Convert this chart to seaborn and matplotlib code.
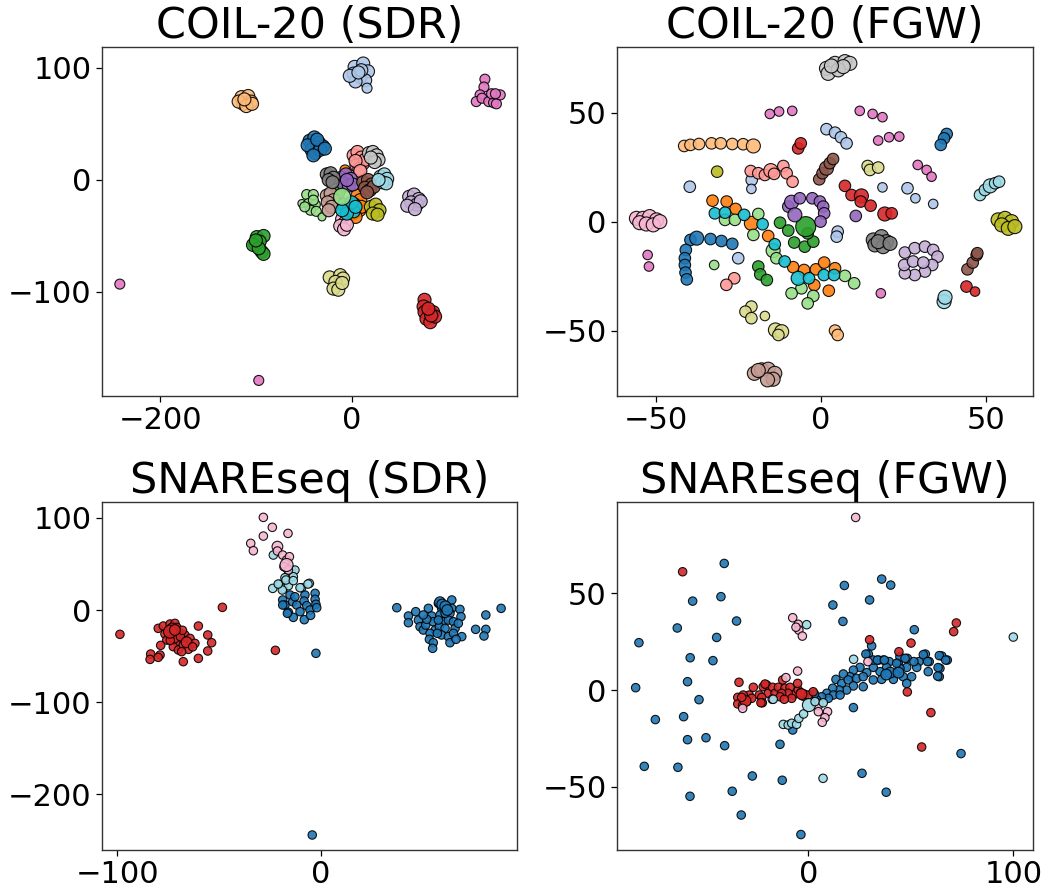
import matplotlib
matplotlib.use("Agg")
import matplotlib.pyplot as plt
import pandas as pd
import seaborn as sns

# ---------------- data: class -> [(x, y[, weight])] ----------------
COIL_SDR = {
    0: [(-44, 35), (-39, 38), (-34, 33), (-30, 30), (-37, 29), (-42, 27), (-38, 24), (-33, 27), (-46, 31), (-36, 36), (-28, 28), (-40, 22)],
    1: [(3, 101), (12, 104), (17, 97), (2, 95), (9, 92), (14, 89), (4, 88), (16, 82, 2), (10, 98), (-2, 93), (7, 96)],
    2: [(6, -14), (9, -18), (3, -22), (8, -27), (1, -30), (10, -24), (-7, 9, 2), (4, -33)],
    3: [(-115, 74), (-108, 75), (-105, 70), (-113, 68), (-118, 70), (-110, 66), (-104, 68), (-112, 72)],
    4: [(-99, -51), (-92, -50), (-101, -57), (-96, -55), (-103, -58), (-94, -64), (-92, -66), (-97, -61), (-100, -54), (-14, -11)],
    5: [(-47, -13, 2), (-40, -13, 2), (-52, -21, 1), (-45, -21, 2), (-38, -22, 2), (-43, -27, 2), (-37, -28, 2), (-31, -33, 1), (-49, -24, 2), (-40, -18, 2)],
    6: [(76, -107), (75, -113), (76, -118), (78, -124), (82, -127), (85, -118), (87, -122), (83, -121), (80, -115)],
    7: [(2, 22), (6, 25), (10, 20), (12, 15), (5, 13), (8, 10), (14, 18), (4, 17), (9, 8)],
    8: [(-11, 2), (-6, 5), (-1, 1), (-9, -3), (-3, -5), (1, -4), (-5, 0)],
    9: [(60, -15), (65, -13), (70, -17), (62, -20), (68, -22), (72, -19), (58, -23), (66, -26)],
    10: [(12, -2), (17, 0), (21, -4), (14, -7), (19, -9), (23, -6), (16, -11)],
    11: [(-26, -14), (-22, -12), (-19, -18), (-25, -20), (-21, -24), (-24, -27)],
    12: [(139, 90, 2), (138, 83, 2), (134, 76, 2), (130, 70, 2), (136, 73, 2), (143, 70, 2), (148, 69, 2), (151, 68, 2), (155, 76, 2), (146, 77, 2), (150, 77, 2), (-242, -93, 2), (-97, -179, 2)],
    13: [(-10, -35), (-7, -38), (-12, -41), (-8, -44), (-5, -40)],
    14: [(-26, 5), (-22, 6), (-19, 2), (-24, 0), (-20, -2)],
    15: [(18, 24), (22, 25), (26, 22), (28, 18), (24, 16), (20, 20)],
    16: [(20, -24), (25, -22), (29, -27), (22, -30), (27, -31)],
    17: [(-23, -87), (-12, -85), (-9, -88), (-17, -91), (-19, -97), (-14, -98), (-10, -92)],
    18: [(-8, -22), (-3, -25), (2, -28), (-5, -30), (0, -20), (-10, -27), (4, -24)],
    19: [(30, 3), (34, 5), (37, 1), (32, -2), (36, -3), (28, 0)],
    105: [(-10, -15, 4)],   # big light-green point (class 5) drawn on top
}

COIL_FGW = {
    0: [(38.2, 40.2), (37.4, 38.2), (36.4, 35.2), (-39.6, -8.4), (-37.7, -7.6, 3), (-33.5, -8), (-30.2, -8.9), (-26.9, -10.2), (-41, -13), (-41.3, -16.8), (-41.3, -19.9), (-41.1, -23.4), (-40.7, -26.5)],
    1: [(-21, 19.1), (-21.1, 15, 1), (-39.8, 16), (-25.1, -16.8), (1.7, 42.4), (4.3, 40.8), (6.1, 38.7), (7.8, 35.9), (18.7, 15.7, 1), (26.3, 15.3), (28.7, 10.7, 1), (34.1, 8.1, 1), (5.1, -4.6), (4.8, -6.9)],
    2: [(-32.9, 9.6), (-28.6, 9.2), (-25.9, 5.8), (-21.1, -0.8, 3), (-16, -6.6), (-8.4, -20.9), (-5.1, -22.2), (-1.5, -21.9), (1, -18.8), (4.3, -21.4), (-2, -29.1), (2.4, -31.7)],
    3: [(-41.5, 34.7), (-39.6, 35.2), (-37, 35.6), (-33.2, 35.9), (-30.4, 35.9), (-26.9, 35.6), (-23.6, 35.5), (-20.5, 34.7, 3), (4.3, -50), (5.1, -52)],
    4: [(-12.4, -0.5), (-9.9, -4.1), (-8.1, -9.6), (-4.9, -11.5), (-2.3, -9.2), (-4, -5.4), (-4.6, -2.3, 4), (-19, -20.6), (-18.4, -24.2), (-16.4, -26.8)],
    5: [(-29.1, 0.8), (-26.1, 0.8), (-19, 3.5), (-20.5, -6.1), (-14.5, -13.3, 3), (-13.5, -16.8), (-32.4, -19.9, 1), (-5.9, -30.6), (-8.9, -32.9), (-2.3, -34.1), (-4, -37.5), (7.3, -24.9), (10.1, -28.3)],
    6: [(-6.9, 33.6), (-6.1, 35.9), (7.3, 16.4), (9.3, 12.2), (12.3, 11.8, 3), (12.1, 9.2), (15.1, 7.3), (19.4, 3.5, 3), (21.5, 3.8), (44.2, -29.8), (46.8, -32.1, 1)],
    7: [(-21.3, 23.2), (-19, 22.2), (-17, 21.4), (-15.2, 23.4, 3), (-14.2, 21.9), (-11.4, 25.5), (-10.4, 22.2), (-8.6, 18.3), (-26.3, -26), (-28.7, -29)],
    8: [(-9.9, 6.9), (-8.9, 8.9, 3), (-6.4, 10.7), (-2.6, 10.7), (-0.3, 9.2), (0.7, 6.9), (1, 3.8), (-0.1, 0), (-7.9, 3.1, 3), (10.6, 2.6)],
    9: [(25.5, -14.2), (28.5, -12.2), (31.6, -11.5), (34.1, -13), (35.4, -16.1), (33.8, -19.9), (31.6, -22.9), (28.5, -24.5), (25.5, -23.7), (25.3, -19.9), (28, -18.3), (31.1, -18.8)],
    10: [(-0.5, 19.4), (0.5, 22.2), (1.7, 24.5, 3), (2.7, 26.8), (3.7, 28.7), (44.5, -21.9), (46.1, -18.8), (47.3, -15.3), (47.5, -14.5)],
    11: [(-20.2, -69.6, 3), (-18, -68, 3), (-16, -67.7, 3), (-14, -69.6, 3), (-14.5, -72.3, 3), (-16.2, -72.6, 3), (-19, -68.3, 3)],
    12: [(-15.5, 49.4, 1), (-12.7, 50.5, 1), (-8.7, 50.8, 1), (11.8, 50.8, 1), (15.7, 49.4, 1), (18.7, 47.9, 1), (17.4, 37.2, 1), (20.7, 38.7, 1), (23.8, 39, 1), (29.4, 26, 1), (32.1, 23.7, 1), (33.6, 20.6, 1), (-52.6, -15.3, 1), (-52.2, -20.6, 1), (18.2, -32.9, 1)],
    13: [(-56, 1.5, 3), (-54, 1.5, 3), (-52, 2.3, 3), (-49.9, 0.8, 3), (-55, -0.5, 3), (-53, -1.1, 3), (-50.9, -1.5, 3), (-48.9, 0, 3)],
    14: [(15.9, -8.4, 3), (18.4, -6.9, 3), (19.9, -9.2, 3), (16.4, -10.7, 3), (18.9, -11.5, 3), (17.4, -9.2, 3), (21, -10, 3)],
    15: [(1.7, 70.3, 3), (4.3, 72.6, 3), (7.3, 73.4, 3), (8.8, 72.6, 3), (2.2, 68, 3), (5.3, 69.6, 3), (6.8, 71.1, 3), (3.2, 71.4, 3)],
    16: [(-31.5, 22.9), (53.8, 0.8, 3), (55.9, 1.5, 3), (57.9, 0, 3), (54.9, -1.5, 3), (56.9, -3.1, 3), (58.9, -2.3, 3)],
    17: [(14.2, 25.5), (14.9, 23.7), (17.4, 24.8), (-21.1, -39), (-22.9, -41.3), (-21.1, -44.3), (-17, -43.3, 1), (-13.8, -49.7, 3), (-11.9, -50.5, 3), (-12.9, -52)],
    18: [(-32.2, 3.8), (-29.1, 4.1), (-23.3, 3.1), (-17.7, -1.2), (-14, -10.4), (-11, -18.3), (-6.9, -26, 3), (-3.6, -26), (0.9, -24.5), (4, -24.5)],
    19: [(48.3, 12.2), (49.8, 14.5), (51.4, 16.4, 3), (52.9, 17.6), (54.1, 18.3), (37.4, -36.7, 3), (37.7, -34.7, 3)],
}

SNARE_SDR = {
    0: [(37.2, 2.5), (42.9, -6.5), (42.9, -13.8), (46.5, -1.8), (47.8, -10.9), (48.6, -18.1), (50.2, -21.7), (51.4, -16.3),
        (52.7, 1.8), (54.3, -6.5), (55.1, -12.7), (56, -21.7), (53.5, -25.3), (53.2, -31.8), (55.1, -35.5), (54.8, -41.6),
        (57.6, 7.2), (59.2, 1.8), (58.4, -5.4), (60, -12.7), (58.1, -18.1), (60.9, -19.9), (59.2, -27.1), (57.1, -25.3),
        (62.5, -28.9), (64.2, 10.9), (64.2, 1.8), (63.3, -3.6), (62.5, -10.9), (65, -12.7), (65.8, -19.9), (65, -25.3),
        (63.3, -35.5), (68.2, 0.7), (68.7, -7.2), (67.4, -14.5), (69.1, -28.9), (66.3, -31.8), (60.9, -3.6), (57.6, -10.9),
        (51.9, -10.1), (50.2, -5.4), (58.4, 8.5, 3), (59.5, 6, 3), (61, 4, 3), (62, 0, 3),
        (75.9, -21), (80.9, -5.4), (80.9, -21), (80, -28.2), (88.4, 1.8),
        (-18.8, 10.9), (-17.7, 5.4), (-15.2, 16.3), (-13.9, 9), (-11.9, 5.4), (-12.8, 14.4), (-7.9, 16.3), (-8.3, 9.8),
        (-7, 4.7), (-2.9, 18.1), (-2.9, 11.6), (-2.5, 6.2), (-10.3, -1.8), (-16, -2.5), (-5.4, 0), (-13.6, -8),
        (-8.2, -10.5), (-5.1, -5.8), (-2.1, 2.5), (-16.5, -3.6), (-18.8, 5.4),
        (-2.5, -47), (-4.3, -244.3)],
    1: [(-98.7, -26.4), (-48.4, 2.9), (-22.4, -43.8), (-79.9, -19.9), (-77.4, -17.4), (-74.1, -15.2), (-71.7, -14.5),
        (-70.8, -18.8), (-76.6, -26), (-74.1, -27.1), (-69.2, -25.3), (-66.8, -27.1), (-64.3, -30.8), (-61.9, -36.2),
        (-67.6, -32.6), (-70.8, -34.4), (-75.7, -32.6), (-72.5, -39.8), (-70, -43.4), (-67.6, -38), (-65.1, -42.7),
        (-68.4, -45.2), (-60.2, -17.4), (-55.6, -27.1), (-53.7, -35.5), (-55.6, -44.5), (-60.2, -52.5), (-67.6, -56.1),
        (-78.7, -38.4), (-79, -48.9), (-83.6, -47.8), (-83.9, -53.6), (-79.9, -51.4),
        (-73, -20, 3), (-72, -30, 3), (-69, -29), (-66, -35, 3), (-63, -40), (-74, -33), (-68, -22),
        (-74.1, -23.5, 4), (-71.7, -21.7, 3)],
    3: [(-23.4, 59.7), (-16.8, 45.3), (-14.4, 43.4), (-12.8, 43.4), (-16, 38), (-13.6, 36.2), (-17.7, 35.1), (-20.1, 27.9),
        (-23.7, 23.5), (-18.5, 23.5), (-16, 26.4), (-9.5, 24.2), (-5.7, 29), (-19, 21.7), (-10.3, 24.2), (-6.4, 28.2),
        (-21, 28.2), (-17.2, 32.6), (-13.6, 31.9)],
    2: [(-28.3, 100.6), (-23.9, 89.8), (-16.2, 83.2), (-28.3, 80.3), (-34.5, 72.4), (-33.2, 64.4), (-21.4, 68.8, 3),
        (-21.4, 64.1), (-18.8, 59.7), (-16.9, 54.3), (-18.2, 47), (-16, 43.4), (-15.5, 57.9), (-16.9, 48.9, 4)],
}

SNARE_FGW = {
    0: [(-41, 65.5), (-56.4, 46), (-42.6, 48.3), (-63.9, 32.1), (-82.6, 24.5), (-35, 35.7), (-44.7, 27.2), (-57.6, 16.7),
        (-46.5, 15.2), (-84.2, 1.2), (-58.9, 4.3), (-53.3, -5), (-74.6, -15.3), (-60.8, -13.8), (-58.9, -25.7),
        (-49.9, -24.7), (-40.8, -28.8), (-80, -39.5), (-63.6, -40), (-27.3, -44.5), (-57.7, -55), (-37.1, -52.4),
        (-32.7, -64.7), (-3.6, -74.8), (-12.7, -46.7), (-13.8, -28.1), (12, 44), (17.6, 54.1), (16.9, 35.5),
        (29.9, 46.6), (35.8, 57.4), (40.2, 54.3), (51.7, 31.2), (74.5, -32.9), (26.2, -43.1), (38, -52.9),
        (22, -9.1), (-7.6, -20.7),
        (30.9, 22.8), (29.3, 18.6), (34.3, 15.5), (39.5, 14.7), (43.9, 14.1), (48.3, 16.4), (54, 14.7), (57.1, 18.6),
        (59, 14.7), (65.1, 17.6), (67.8, 15.5), (64.2, 11.2), (63.9, 6.9), (58.5, 9.5), (52.9, 11.7), (48, 11.7),
        (44.7, 11.2), (42.3, 8.6), (38.2, 11.7), (35, 9.5), (31.7, 11.7), (28.5, 9), (25.2, 11.7), (22, 10.3),
        (20.3, 6.9), (17.1, 8.3), (23.6, 6), (26.8, 6.9), (31.7, 5.2), (35.8, 5.5), (41.5, 5.5), (46.3, 6.9),
        (50.4, 6.9), (48, 3.4), (13.5, 5.5), (16.3, 3.4), (19.5, 5.2), (22, 2.1), (18.7, 0), (15.1, 0), (11.9, 0.9),
        (9, -1.7), (12.2, -2.6), (15.5, -2.6), (9.8, -4.3), (6.5, -3.5), (26.8, 1.7), (31.7, 15.5), (36.6, 15.5),
        (44.7, 17.2), (63.9, 17.8), (67, 15.5), (56.1, 18.3), (51.5, 14.7), (58.2, 14.7), (63.3, 11.6), (63.1, 7.2),
        (47.2, 16.4), (43.1, 13.8), (33.7, 15.5), (37.1, 15.5), (28.1, 18.6), (4, -5), (3, -2),
        (40, 9, 3), (44, 9, 3), (38, 8, 3)],
    1: [(-61.3, 61.2), (29.9, 26), (44.2, 19.8), (50.1, 24.3), (48.3, -1), (59.8, -11.7), (55.3, -29.5), (70.9, 30.2),
        (72.2, 34.7),
        (-33.8, 4), (-34.4, -3.8), (-34.4, -7.2), (-30, -6), (-28.8, -2.6), (-26.8, 1.4), (-23.9, -2.6), (-22, 1.7),
        (-19.5, -1.7), (-20.3, 2.6), (-17.4, 1.4), (-16.2, -1.7), (-14.6, 1.4), (-12.5, 5.2), (-11.4, 0.9), (-8.9, 1.4),
        (-7.3, -2.6), (-4.9, 0), (-2.4, -2.6, 3), (0, -2.6), (2.4, -0.9), (-3.7, -1.4), (-9.8, -1.7), (-13, -1.7),
        (-22.7, -3.8), (-27.6, -4.3), (-31.7, -2.6), (-32, -7.8), (-22.4, -6.6), (-13.8, -3.5), (-8.1, -4.3),
        (-5.2, 3.4), (-21.1, 3.1), (-30.6, -5.7, 3), (-32.5, -3.8), (-23.1, -6.6), (-11.7, -4.8), (-3.3, -2.1, 3)],
    2: [(23.1, 89.3), (-7.6, 37.4), (-4.9, 34), (-4.6, 31), (-2.9, 27.9), (-5.2, 9.8), (-10.9, 6.4), (29.1, 14.7),
        (-32, -9.5), (-17.6, -4.8), (4.6, -7.4, 3), (4.9, -11.2), (9.4, -11.2), (8.1, -14.3), (6.8, -16.7), (-6, 32.5)],
    3: [(100, 27.4), (7.2, -45.7), (-0.8, 33.8), (22.1, 15.9), (-17.1, -4.8), (-12.2, -17.8), (-9.8, -18.1),
        (-8.1, -17.2), (-5.7, -17.8), (-4.6, -14.7), (-2.3, -12.4), (0.3, -7.8, 4), (3.3, -6), (7.3, -6.6)],
}

TITLES = ["COIL-20 (SDR)", "COIL-20 (FGW)", "SNAREseq (SDR)", "SNAREseq (FGW)"]
XTICKS = [[-200, 0], [-50, 0, 50], [-100, 0], [0, 100]]
YTICKS = [[-100, 0, 100], [-50, 0, 50], [-200, -100, 0, 100], [-50, 0, 50]]


def to_frame(d, default_w, alias=None):
    rows = []
    for c, pts in d.items():
        lab = alias.get(c, c) if alias else c
        for p in pts:
            w = p[2] if len(p) > 2 else default_w
            rows.append((lab, p[0], p[1], w))
    return pd.DataFrame(rows, columns=["label", "x", "y", "w"])


sns.set_style("ticks")
plt.rcParams["font.family"] = ["DejaVu Sans"]
plt.rcParams["axes.edgecolor"] = "0.2"
plt.rcParams["axes.linewidth"] = 1.0
plt.rcParams["text.color"] = "black"
plt.rcParams["xtick.color"] = "black"
plt.rcParams["ytick.color"] = "black"
plt.rcParams["axes.titlecolor"] = "black"

tab20 = sns.color_palette("tab20", 20)
coil_pal = {i: tab20[i] for i in range(20)}
snare_pal = {0: tab20[0], 1: tab20[6], 2: tab20[13], 3: tab20[19]}

frames = [
    to_frame(COIL_SDR, 3, alias={105: 5}),
    to_frame(COIL_FGW, 2),
    to_frame(SNARE_SDR, 2),
    to_frame(SNARE_FGW, 2),
]
palettes = [coil_pal, coil_pal, snare_pal, snare_pal]
size_maps = [
    {1: 33, 2: 52, 3: 88, 4: 150},
    {1: 47, 2: 69, 3: 102, 4: 207},
    {1: 25, 2: 37, 3: 60, 4: 88},
    {1: 25, 2: 37, 3: 60, 4: 88},
]
limits = [
    ((-260.6, 172.5), (-192.9, 118.75)),
    ((-61.9, 64.4), (-80.0, 80.1)),
    ((-107.5, 96.2), (-260.6, 117.3)),
    ((-93.3, 109.6), (-82.8, 97.3)),
]

W, H = 1050, 890
fig = plt.figure(figsize=(W / 100, H / 100), dpi=100)
rects_px = [(102, 47, 517, 396), (617, 47, 1033, 396), (102, 502, 517, 850), (617, 502, 1033, 850)]

for i in range(4):
    l, t, r, b = rects_px[i]
    ax = fig.add_axes([l / W, 1 - b / H, (r - l) / W, (b - t) / H])
    sns.scatterplot(data=frames[i], x="x", y="y", hue="label", palette=palettes[i],
                    size="w", sizes=size_maps[i], legend=False, edgecolor="black",
                    linewidth=0.8, alpha=0.9, ax=ax)
    ax.set_xlim(*limits[i][0])
    ax.set_ylim(*limits[i][1])
    ax.set_xticks(XTICKS[i])
    ax.set_yticks(YTICKS[i])
    ax.set_xlabel("")
    ax.set_ylabel("")
    ax.tick_params(labelsize=22, length=4, width=0.9)
    ax.set_title(TITLES[i], fontsize=31, pad=6.5)

fig.savefig("out.png", dpi=100)
